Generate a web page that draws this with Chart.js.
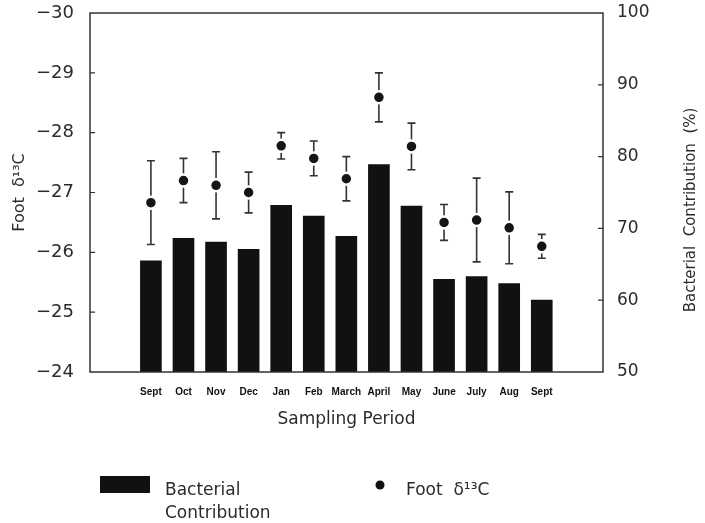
<!DOCTYPE html>
<html>
<head>
<meta charset="utf-8">
<script src="https://cdn.jsdelivr.net/npm/chart.js@4/dist/chart.umd.min.js"></script>
<style>
  body { margin: 0; background: #fff; }
  canvas { display: block; }
</style>
</head>
<body>
<canvas id="chart" width="705" height="523"></canvas>
<script>
// sampling months (x axis)
const months = ['Sept', 'Oct', 'Nov', 'Dec', 'Jan', 'Feb', 'March', 'April', 'May', 'June', 'July', 'Aug', 'Sept'];
// bacterial contribution (%), right axis
const bacterial = [65.5, 68.6, 68.1, 67.1, 73.2, 71.7, 68.9, 78.9, 73.1, 62.9, 63.3, 62.3, 60.0];
// foot delta 13C, left axis, with +/- error
const footD13C = [-26.83, -27.2, -27.12, -27.0, -27.78, -27.57, -27.23, -28.59, -27.77, -26.5, -26.54, -26.41, -26.1];
const footErr = [0.7, 0.37, 0.56, 0.34, 0.22, 0.29, 0.37, 0.41, 0.39, 0.3, 0.7, 0.6, 0.2];
const leftTicks = [-30, -29, -28, -27, -26, -25, -24];
const rightTicks = [50, 60, 70, 80, 90, 100];

const ink = '#2b2b2b';
const fontFamily = '"DejaVu Sans", sans-serif';

// error bars drawn just before the points so the dots sit on top
const errorBars = {
    id: 'errorBars',
    beforeDatasetDraw(chart, args) {
        if (args.index !== 0) return;
        const ctx = chart.ctx;
        const y = chart.scales.yL;
        const meta = chart.getDatasetMeta(0);
        ctx.save();
        ctx.strokeStyle = '#333';
        ctx.lineWidth = 1.6;
        meta.data.forEach((pt, i) => {
            const top = y.getPixelForValue(footD13C[i] - footErr[i]);
            const bot = y.getPixelForValue(footD13C[i] + footErr[i]);
            ctx.beginPath();
            ctx.moveTo(pt.x, top); ctx.lineTo(pt.x, bot);
            ctx.moveTo(pt.x - 4, top); ctx.lineTo(pt.x + 4, top);
            ctx.moveTo(pt.x - 4, bot); ctx.lineTo(pt.x + 4, bot);
            ctx.stroke();
        });
        ctx.restore();
    }
};

// frame box, inward ticks, right title and the legend
const decorations = {
    id: 'decorations',
    afterDraw(chart) {
        const ctx = chart.ctx;
        const a = chart.chartArea;
        ctx.save();
        ctx.strokeStyle = '#333';
        ctx.lineWidth = 1.5;
        ctx.strokeRect(a.left, a.top, a.right - a.left, a.bottom - a.top);

        ctx.lineWidth = 1.2;
        ctx.beginPath();
        leftTicks.slice(1, -1).forEach(v => {
            const py = chart.scales.yL.getPixelForValue(v);
            ctx.moveTo(a.left, py); ctx.lineTo(a.left + 5, py);
        });
        rightTicks.slice(1, -1).forEach(v => {
            const py = chart.scales.yR.getPixelForValue(v);
            ctx.moveTo(a.right, py); ctx.lineTo(a.right - 5, py);
        });
        ctx.stroke();

        // right axis title, reading bottom to top
        ctx.fillStyle = ink;
        ctx.font = '15px ' + fontFamily;
        ctx.textAlign = 'center';
        ctx.textBaseline = 'middle';
        ctx.translate(691, 210);
        ctx.rotate(-Math.PI / 2);
        ctx.fillText('Bacterial  Contribution  (%)', 0, 0);
        ctx.restore();

        // legend
        ctx.save();
        ctx.fillStyle = '#111';
        ctx.fillRect(100, 476, 50, 17);
        ctx.beginPath();
        ctx.arc(380, 485, 4.5, 0, Math.PI * 2);
        ctx.fill();
        ctx.fillStyle = ink;
        ctx.font = '17px ' + fontFamily;
        ctx.textBaseline = 'alphabetic';
        ctx.fillText('Bacterial', 165, 495);
        ctx.fillText('Contribution', 165, 518);
        ctx.fillText('Foot  δ¹³C', 406, 495);
        ctx.restore();
    }
};

// vertical scales: fixed width, no extra room for half tick labels
const fixWidth = w => s => {
    s.width = w;
    s.paddingTop = 0;
    s.paddingBottom = 0;
};

const ctx = document.getElementById('chart').getContext('2d');

new Chart(ctx, {
    data: {
        datasets: [{
            type: 'scatter',
            label: 'Foot δ13C',
            data: footD13C.map((v, i) => ({ x: i, y: v })),
            xAxisID: 'x',
            yAxisID: 'yL',
            pointRadius: 6,
            pointBorderWidth: 2.5,
            backgroundColor: '#151515',
            borderColor: '#fff'
        }, {
            type: 'bar',
            label: 'Bacterial Contribution',
            data: bacterial.map((v, i) => ({ x: i, y: v })),
            xAxisID: 'x',
            yAxisID: 'yR',
            backgroundColor: '#111',
            barThickness: 21
        }]
    },
    options: {
        responsive: false,
        animation: false,
        layout: { padding: { top: 13, bottom: 91, left: 0, right: 0 } },
        plugins: {
            legend: { display: false },
            tooltip: { enabled: false }
        },
        scales: {
            x: {
                type: 'linear',
                position: 'bottom',
                offset: false,
                min: -1.87,
                max: 13.88,
                grid: { display: false, drawTicks: false },
                border: { display: false },
                afterBuildTicks: s => { s.ticks = months.map((m, i) => ({ value: i })); },
                afterFit: s => {
                    s.height = 60;
                    s.paddingLeft = 0;
                    s.paddingRight = 0;
                },
                ticks: {
                    autoSkip: false,
                    maxRotation: 0,
                    padding: 14,
                    color: '#111',
                    font: { family: 'Liberation Sans, sans-serif', size: 10, weight: 'bold' },
                    callback: v => months[v]
                },
                title: {
                    display: true,
                    text: 'Sampling Period',
                    color: ink,
                    font: { family: fontFamily, size: 17 },
                    padding: { top: 0, bottom: 2 }
                }
            },
            yL: {
                type: 'linear',
                position: 'left',
                reverse: true,
                min: -30,
                max: -24,
                grid: { display: false, drawTicks: false },
                border: { display: false },
                afterBuildTicks: s => { s.ticks = leftTicks.map(v => ({ value: v })); },
                afterFit: fixWidth(90),
                ticks: {
                    padding: 16,
                    color: ink,
                    font: { family: fontFamily, size: 18 },
                    callback: v => String(v).replace('-', '\u2212')
                },
                title: {
                    display: true,
                    text: 'Foot  δ¹³C',
                    color: ink,
                    font: { family: fontFamily, size: 16 },
                    padding: { top: 10, bottom: 0 }
                }
            },
            yR: {
                type: 'linear',
                position: 'right',
                min: 50,
                max: 100,
                grid: { display: false, drawTicks: false },
                border: { display: false },
                afterBuildTicks: s => { s.ticks = rightTicks.map(v => ({ value: v })); },
                afterFit: fixWidth(102),
                ticks: {
                    padding: 14,
                    color: ink,
                    font: { family: fontFamily, size: 17 }
                }
            }
        }
    },
    plugins: [errorBars, decorations]
});
</script>
</body>
</html>
